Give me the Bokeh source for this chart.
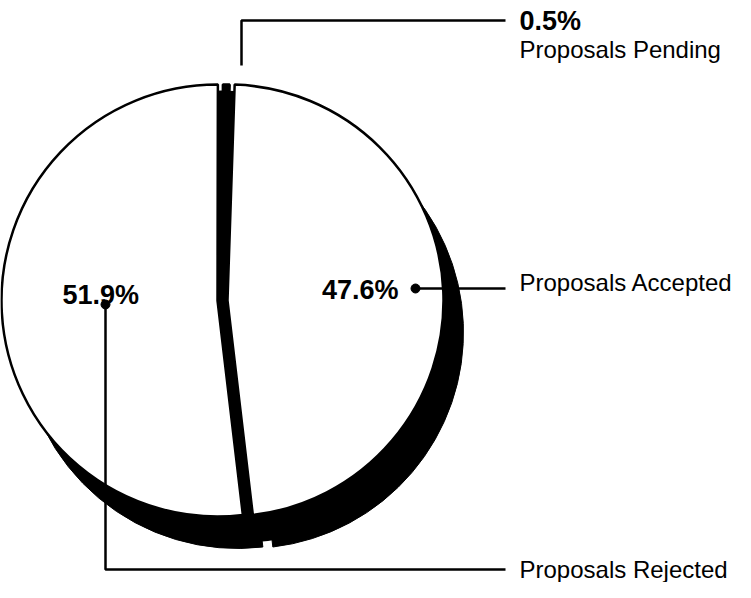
import numpy as np
from bokeh.plotting import figure
from bokeh.models import Range1d, ColumnDataSource
from bokeh.core.properties import value
from bokeh.embed import file_html
from bokeh.resources import INLINE

# ---- data ----
categories = ["Proposals Pending", "Proposals Accepted", "Proposals Rejected"]
shares = [0.5, 47.6, 51.9]
pct_labels = ["0.5%", "47.6%", "51.9%"]

# ---- layout (picture pixel coordinates; y measured downward) ----
W, H = 735, 582


def Y(py):
    return H - py


TXT_SHIFT = 8  # compensation for the svg text baseline placement

cx, cy, R = 222, 300, 216
explode = [0, 5, -5]           # horizontal explode per slice
shadow_dx, shadow_dy = 20, 32  # depth offset
start_deg = 89.9               # where the first slice begins (clockwise)

cum = np.concatenate([[0], np.cumsum(shares)])
begin = np.radians(start_deg - cum[:-1] * 3.6)
end = np.radians(start_deg - cum[1:] * 3.6)

xs = [cx + e for e in explode]
src_face = ColumnDataSource(dict(
    x=xs, y=[Y(cy)] * 3, start=list(end), stop=list(begin),
    fill=["black", "white", "white"], cat=categories))
src_shadow = ColumnDataSource(dict(
    x=[v + shadow_dx for v in xs], y=[Y(cy + shadow_dy)] * 3,
    start=list(end), stop=list(begin)))

p = figure(width=W, height=H, x_range=Range1d(0, W), y_range=Range1d(0, H),
           output_backend="svg", toolbar_location=None, min_border=0)
p.axis.visible = False
p.grid.visible = False
p.outline_line_color = None
p.background_fill_color = "white"
p.border_fill_color = "white"

# depth / shadow
p.circle(x=[cx + shadow_dx], y=[Y(cy + shadow_dy)], radius=R - 6,
         fill_color="black", line_color=None)
p.wedge(x="x", y="y", radius=R, start_angle="start", end_angle="stop",
        fill_color="black", line_color="black", source=src_shadow)
# dark core visible in the gaps between slices
p.circle(x=[cx], y=[Y(cy)], radius=R - 6, fill_color="black", line_color=None)
# top faces
p.wedge(x="x", y="y", radius=R, start_angle="start", end_angle="stop",
        fill_color="fill", line_color="black", line_width=2.5, source=src_face)

LW = 2.5
RX = 505   # right end of leader lines
TX = 519   # left edge of category labels
# leader: pending
p.line([241, 241, RX], [Y(65), Y(20), Y(20)], line_color="black", line_width=LW)
# leader: accepted
p.line([415, RX], [Y(288), Y(288)], line_color="black", line_width=LW)
p.scatter([415], [Y(288)], size=9, color="black")
# leader: rejected
p.line([105, 105, RX], [Y(304), Y(569), Y(569)], line_color="black", line_width=LW)
p.scatter([105], [Y(304)], size=9, color="black")

font = value("Liberation Sans")


def T(py):
    return Y(py - TXT_SHIFT)


# percentages
p.text(x=[TX], y=[T(28)], text=[pct_labels[0]], text_font=font,
       text_font_style="bold", text_font_size="27px", text_baseline="alphabetic",
       text_align="left", text_color="black")
p.text(x=[398], y=[T(297)], text=[pct_labels[1]], text_font=font,
       text_font_style="bold", text_font_size="27px", text_baseline="alphabetic",
       text_align="right", text_color="black")
p.text(x=[62], y=[T(302)], text=[pct_labels[2]], text_font=font,
       text_font_style="bold", text_font_size="27px", text_baseline="alphabetic",
       text_align="left", text_color="black")
# category names
p.text(x=[TX, TX, TX], y=[T(57), T(290), T(577)], text=categories,
       text_font=font, text_font_size="24px", text_baseline="alphabetic",
       text_align="left", text_color="black")

open("out.html", "w").write(file_html(p, INLINE))
